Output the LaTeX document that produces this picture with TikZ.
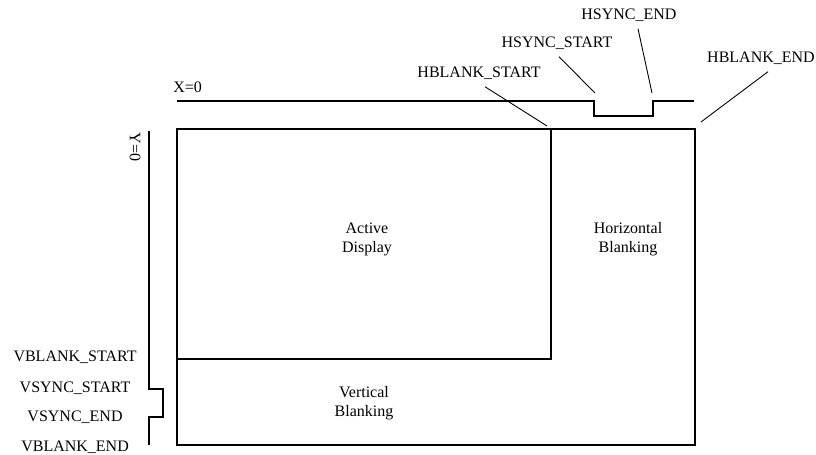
\documentclass[tikz,border=0pt]{standalone}
\usepackage{fontspec}
\setmainfont{Liberation Serif}
\usetikzlibrary{positioning}
\begin{document}
\begin{tikzpicture}[x=0.5pt, y=-0.5pt, every node/.style={font=\fontsize{8}{9.5}\selectfont, inner sep=0pt}]

	\tikzset{
	sig/.style={line width=0.7pt},
	lead/.style={line width=0.45pt},
	areatext/.style={align=center}
	}

	\useasboundingbox (0,0) rectangle (816,455);

	% Coordinates
	\coordinate (tl) at (177,129);
	\coordinate (br) at (695,445);
	\coordinate (ad) at (551,359);
	\coordinate (hbsend) at (547,126);
	\coordinate (hssend) at (595,93);
	\coordinate (hseend) at (652,93);
	\coordinate (hbeend) at (701,122);

	% Nodes
	\node[anchor=west] (x0) at (173,87) {X=0};
	\node[rotate=-90] (y0) at (135,147) {Y=0};

	\node[areatext] (active) at (367,239) {Active\\Display};
	\node[areatext] (hblank) at (628,239) {Horizontal\\Blanking};
	\node[areatext] (vblank) at (364,403) {Vertical\\Blanking};

	\node (hbs) at (479,73) {HBLANK\_START};
	\node (hss) at (557,43) {HSYNC\_START};
	\node (hse) at (629,15) {HSYNC\_END};
	\node (hbe) at (761,58) {HBLANK\_END};

	\node[anchor=east] (vbs) at (137,357) {VBLANK\_START};
	\node[anchor=east, node distance=15.5pt, below of=vbs] (vss) {VSYNC\_START};
	\node[anchor=east, node distance=14.5pt, below of=vss] (vse) {VSYNC\_END};
	\node[anchor=east, node distance=15pt, below of=vse] (vbe) {VBLANK\_END};

	% Lines
	\draw[sig] (tl) rectangle (br);
	\draw[sig] (tl) rectangle (ad);
	\draw[sig] (177,101) -- (594,101) -- (594,116) -- (653,116) -- (653,101) -- (694,101);
	\draw[sig] (149,131) -- (149,389) -- (163,389) -- (163,417) -- (149,417) -- (149,445);

	\draw[lead] ([xshift=3pt,yshift=-3.5pt]hbs.south) -- (hbsend);
	\draw[lead] ([xshift=1pt,yshift=-3.5pt]hss.south) -- (hssend);
	\draw[lead] ([xshift=4.5pt,yshift=-3.5pt]hse.south) -- (hseend);
	\draw[lead] ([xshift=3.5pt,yshift=-3.5pt]hbe.south) -- (hbeend);

\end{tikzpicture}
\end{document}
